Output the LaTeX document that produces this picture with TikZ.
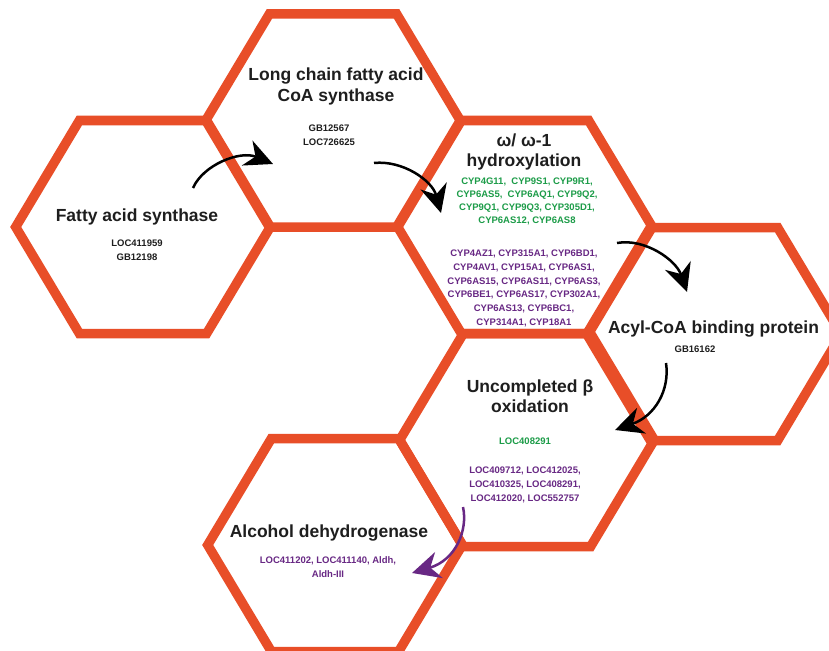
\documentclass[tikz,border=0pt]{standalone}
\usepackage{fontspec}
\setmainfont{Liberation Sans}
\usetikzlibrary{arrows.meta}
\definecolor{hexred}{RGB}{232,78,40}
\definecolor{genegreen}{RGB}{28,156,72}
\definecolor{genepurple}{RGB}{104,40,132}
\definecolor{txt}{RGB}{30,30,30}
\tikzset{
  hexline/.style={draw=hexred, line width=9.5pt, line join=miter},
  title/.style={font=\bfseries\fontsize{17.5}{20.5}\selectfont, text=txt, align=center, inner sep=0pt},
  gene/.style={font=\bfseries\fontsize{9.5}{13.5}\selectfont, text=txt, align=center, inner sep=0pt},
  greengene/.style={gene, text=genegreen, font=\bfseries\fontsize{9.5}{13}\selectfont},
  purplegene/.style={gene, text=genepurple, font=\bfseries\fontsize{9.5}{13.7}\selectfont},
  flow/.style={draw=black, line width=2.5pt, arrows={-Stealth[length=28pt,width=27pt,inset=9pt]}},
  purpleflow/.style={flow, draw=genepurple},
}
\newcommand\hexcell[2]{%
  \draw[hexline] (#1,#2) ++(-127.3,0) -- ++(63.65,-106.5) -- ++(127.3,0)
    -- ++(63.65,106.5) -- ++(-63.65,106.5) -- ++(-127.3,0) -- cycle;}
\begin{document}
\begin{tikzpicture}[x=1pt,y=-1pt]
\useasboundingbox (0,0) rectangle (829,650);
\fill[white] (0,0) rectangle (829,650);
\clip (0,0) rectangle (829,650);
% honeycomb
\hexcell{143}{227}
\hexcell{333}{120.5}
\hexcell{525}{227}
\hexcell{714}{334}
\hexcell{527}{440}
\hexcell{335}{545}
% hex 1
\node[title] (t1) at (137,217.2) {Fatty acid synthase};
\node[gene] (g1) at (137,250) {LOC411959\\GB12198};
% hex 2
\node[title] (t2) at (336,86.5) {Long chain fatty acid\\CoA synthase};
\node[gene] (g2) at (329,135) {GB12567\\LOC726625};
% hex 3
\node[title] (t3) at (524,152) {ω/ ω-1\\hydroxylation};
\node[greengene] (g3a) at (527,201.4) {CYP4G11,\ \ CYP9S1, CYP9R1,\\CYP6AS5,\ \ CYP6AQ1, CYP9Q2,\\CYP9Q1, CYP9Q3, CYP305D1,\\CYP6AS12, CYP6AS8};
\node[purplegene] (g3b) at (524,288.5) {CYP4AZ1, CYP315A1, CYP6BD1,\\CYP4AV1, CYP15A1, CYP6AS1,\\CYP6AS15, CYP6AS11, CYP6AS3,\\CYP6BE1, CYP6AS17, CYP302A1,\\CYP6AS13, CYP6BC1,\\CYP314A1, CYP18A1};
% hex 4
\node[title] (t4) at (713.5,329.5) {Acyl-CoA binding protein};
\node[gene] (g4) at (695,349.6) {GB16162};
% hex 5
\node[title] (t5) at (530,396) {Uncompleted β\\oxidation};
\node[greengene] (g5a) at (525,441.6) {LOC408291};
\node[purplegene, font=\bfseries\fontsize{9.5}{14}\selectfont] (g5b) at (525,485.4) {LOC409712, LOC412025,\\LOC410325, LOC408291,\\LOC412020, LOC552757};
% hex 6
\node[title] (t6) at (329,533.5) {Alcohol dehydrogenase};
\node[purplegene, font=\bfseries\fontsize{9.5}{14}\selectfont] (g6) at (328,567.4) {LOC411202, LOC411140, Aldh,\\Aldh-III};
% arrows
\coordinate (a1s) at (193,188);  \coordinate (a1e) at (273,164);
\coordinate (a2s) at (374,163);  \coordinate (a2e) at (441,213);
\coordinate (a3s) at (617,243);  \coordinate (a3e) at (687,292);
\coordinate (a4s) at (666,363);  \coordinate (a4e) at (615,430);
\coordinate (a5s) at (463,507);  \coordinate (a5e) at (412,573);
\draw[flow] (a1s) .. controls (203,165) and (240,150) .. (a1e);
\draw[flow] (a2s) .. controls (402,160) and (432,180) .. (a2e);
\draw[flow] (a3s) .. controls (645,238) and (676,260) .. (a3e);
\draw[flow] (a4s) .. controls (670,390) and (655,416) .. (a4e);
\draw[purpleflow] (a5s) .. controls (468,530) and (456,560) .. (a5e);
\end{tikzpicture}
\end{document}
